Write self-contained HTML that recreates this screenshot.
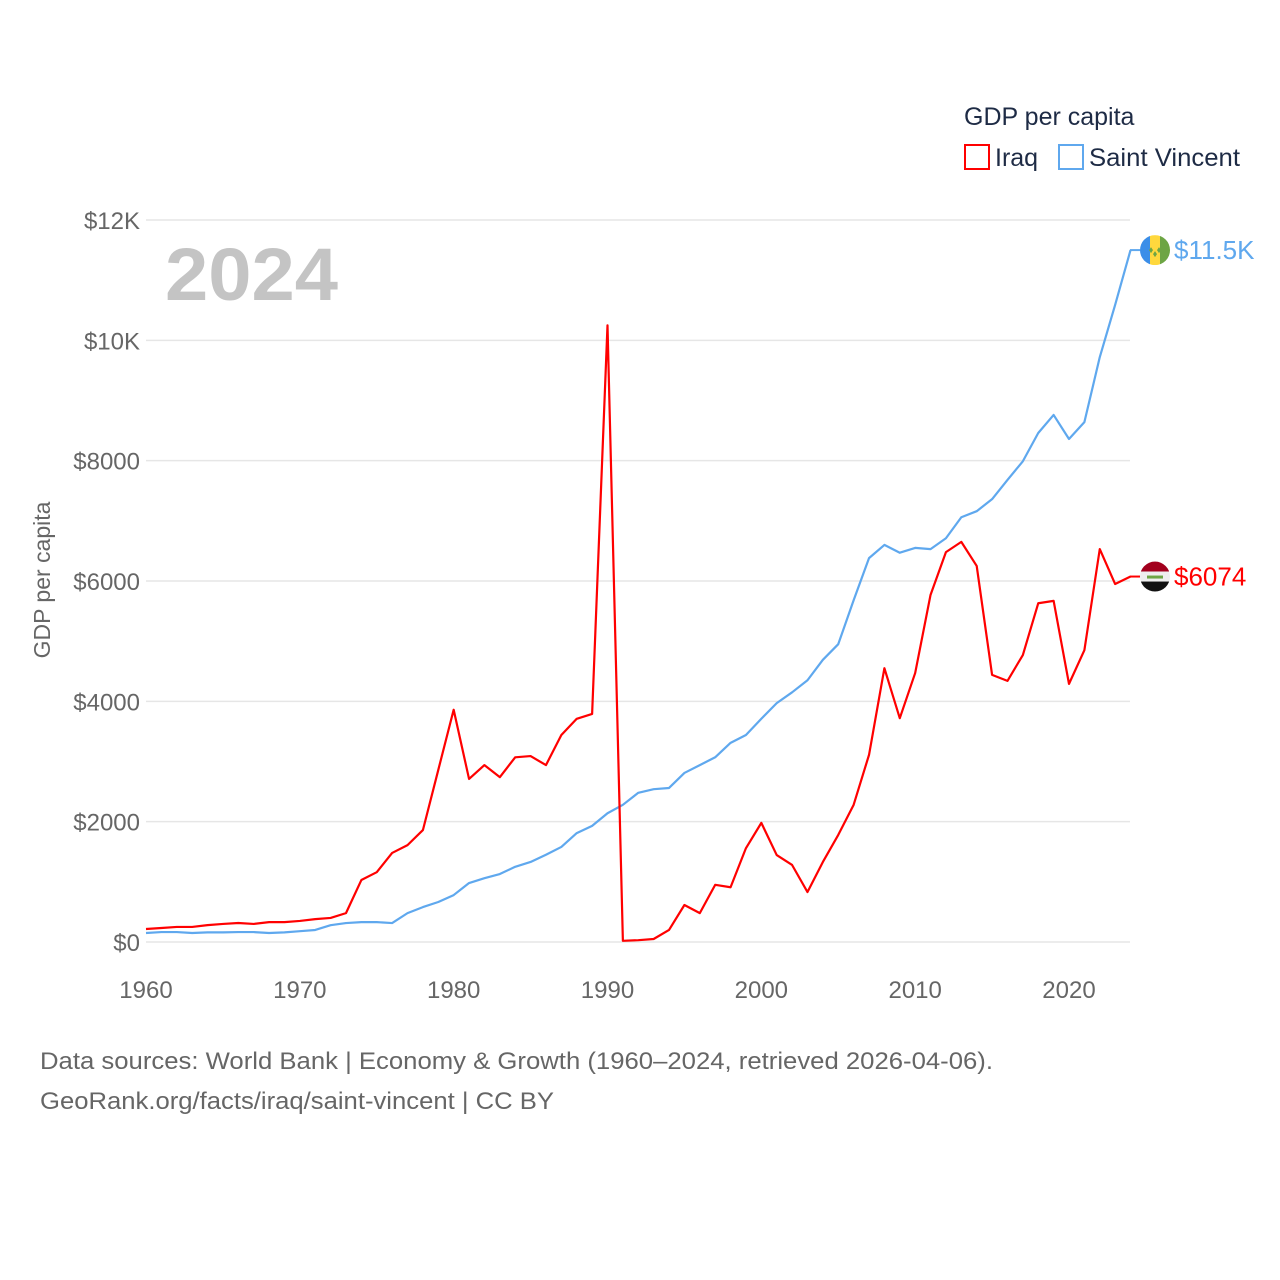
<!DOCTYPE html>
<html><head><meta charset="utf-8"><style>
body{margin:0;background:#fff;}
svg{display:block;font-family:"Liberation Sans",sans-serif;}
</style></head><body>
<svg id="chart" width="1280" height="1280" viewBox="0 0 1280 1280">
<g id="grid"></g>
<g id="yticks"></g>
<g id="xticks"></g>
<text x="165" y="300" font-size="74" font-weight="bold" fill="#c4c4c4" textLength="173" lengthAdjust="spacingAndGlyphs">2024</text>
<text transform="translate(50,580) rotate(-90)" text-anchor="middle" font-size="23" fill="#666">GDP per capita</text>
<g id="series"></g>
<g>
<text x="964" y="125" font-size="25" fill="#1e2b45">GDP per capita</text>
<g><rect x="965" y="145" width="24" height="24" fill="none" stroke="#ff0000" stroke-width="2"/><text x="995" y="166" font-size="25" fill="#1e2b45">Iraq</text></g>
<g><rect x="1059" y="145" width="24" height="24" fill="none" stroke="#5fa8ee" stroke-width="2"/><text x="1089" y="166" font-size="25" fill="#1e2b45" textLength="151" lengthAdjust="spacingAndGlyphs">Saint Vincent</text></g>
</g>
<g id="endlabels"></g>
<text x="40" y="1069" font-size="24" fill="#666" textLength="953" lengthAdjust="spacingAndGlyphs">Data sources: World Bank | Economy &amp; Growth (1960–2024, retrieved 2026-04-06).</text>
<text x="40" y="1109" font-size="24" fill="#666" textLength="514" lengthAdjust="spacingAndGlyphs">GeoRank.org/facts/iraq/saint-vincent | CC BY</text>
</svg>
<script>
const years = [];for(let y=1960;y<=2024;y++)years.push(y);
const iraq = [216,233,250,250,280,300,316,300,330,330,350,380,400,480,1030,1160,1480,1610,1860,2860,3860,2710,2940,2740,3070,3090,2940,3440,3710,3790,10250,20,30,50,200,615,480,950,910,1560,1980,1445,1280,830,1330,1780,2280,3110,4550,3720,4470,5770,6480,6650,6250,4440,4340,4770,5630,5670,4290,4850,6530,5950,6074];
const svc = [150,165,165,150,160,160,165,165,150,160,180,200,280,315,330,330,315,480,580,665,780,980,1060,1130,1250,1330,1450,1580,1810,1930,2140,2280,2480,2540,2560,2810,2940,3070,3310,3440,3710,3970,4150,4350,4690,4950,5680,6380,6600,6470,6550,6530,6710,7060,7160,7360,7680,7990,8460,8760,8360,8640,9720,10590,11500];
const yTicks = [0,2000,4000,6000,8000,10000,12000];
const yTickLabels = ["$0","$2000","$4000","$6000","$8000","$10K","$12K"];
const xTicks = [1960,1970,1980,1990,2000,2010,2020];
const NS="http://www.w3.org/2000/svg";
const X=y=>146+(y-1960)*(1069-146)/60;
const Y=v=>942-v*(942-220)/12000;
function mk(tag,parent,attrs){const e=document.createElementNS(NS,tag);for(const k in attrs)e.setAttribute(k,attrs[k]);document.getElementById(parent).appendChild(e);return e;}
yTicks.forEach((t,i)=>{
  const l=mk('line','grid',{x1:146,x2:1130,y1:Y(t),y2:Y(t),stroke:'#e6e6e6','stroke-width':1.5});
  
  
  const tx=mk('text','yticks',{x:140,y:Y(t)+9,'text-anchor':'end','font-size':24,fill:'#666'});
  tx.textContent=yTickLabels[i];
  
  
});
xTicks.forEach(t=>{
  const tx=mk('text','xticks',{x:X(t),y:998,'text-anchor':'middle','font-size':24,fill:'#666'});
  tx.textContent=t;
  
  
});
function line(data,color,name){
  const p=mk('polyline','series',{points:data.map((v,i)=>X(years[i])+','+Y(v)).join(' '),fill:'none',stroke:color,'stroke-width':2.2,'stroke-linejoin':'round'});
  
  
}
line(svc,'#5fa8ee','line-saint-vincent');
line(iraq,'#ff0000','line-iraq');
function end(data,color,label,name,flag){
  const v=data[data.length-1],y=Y(v);
  mk('line','endlabels',{x1:1130,x2:1140,y1:y,y2:y,stroke:color,'stroke-width':2});
  const g=document.createElementNS(NS,'g');document.getElementById('endlabels').appendChild(g);
  
  
  g.innerHTML=flag(y);
  const t=mk('text','endlabels',{x:1174,y:y+9,'font-size':26,fill:color});
  t.textContent=label;
  
  
}
end(svc,'#5fa8ee','$11.5K','saint-vincent',y=>`<clipPath id="c1"><circle cx="1155" cy="${y}" r="15"/></clipPath><g clip-path="url(#c1)"><rect x="1140" y="${y-15}" width="10" height="30" fill="#3b8ee8"/><rect x="1150" y="${y-15}" width="10" height="30" fill="#ffd83d"/><rect x="1160" y="${y-15}" width="10" height="30" fill="#6da544"/><path d="M1151 ${y-3}l2 3-2 3-2-3zM1159 ${y-3}l2 3-2 3-2-3zM1155 ${y+1}l2 3-2 3-2-3z" fill="#6da544"/></g>`);
end(iraq,'#ff0000','$6074','iraq',y=>`<clipPath id="c2"><circle cx="1155" cy="${y}" r="15"/></clipPath><g clip-path="url(#c2)"><rect x="1140" y="${y-15}" width="30" height="10" fill="#a2001d"/><rect x="1140" y="${y-5}" width="30" height="10" fill="#eee"/><rect x="1140" y="${y+5}" width="30" height="10" fill="#111"/><rect x="1147" y="${y-1}" width="16" height="3" fill="#6da544"/></g>`);
</script>
</body></html>
